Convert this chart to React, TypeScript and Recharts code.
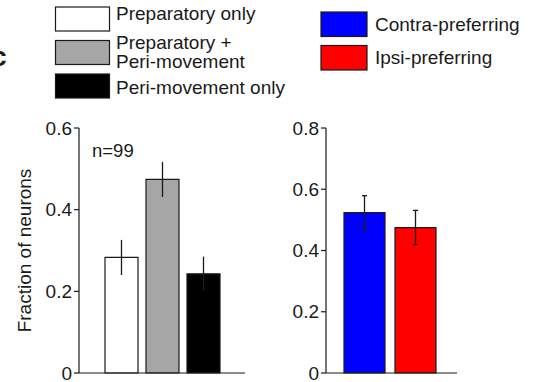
import React from 'react';
import { BarChart, Bar, XAxis, YAxis, ErrorBar, Cell } from 'recharts';

// panel c, left: response type of neurons
const typeLabels = ['Preparatory only', 'Preparatory + Peri-movement', 'Peri-movement only'];
const typeFractions = [0.283, 0.474, 0.243];
const typeErrors = [0.043, 0.043, 0.042];
const typeColors = ['#ffffff', '#a6a6a6', '#000000'];
const typeTicks = [0, 0.2, 0.4, 0.6];

// panel c, right: side preference
const prefLabels = ['Contra-preferring', 'Ipsi-preferring'];
const prefFractions = [0.524, 0.475];
const prefErrors = [0.055, 0.056];
const prefColors = ['#0000ff', '#ff0000'];
const prefTicks = [0, 0.2, 0.4, 0.6, 0.8];

const nLabel = 'n=99';

const FONT = '"Liberation Sans", Arial, sans-serif';
const INK = '#1a1a1a';

const typeData = typeLabels.map((name, i) => ({ name, value: typeFractions[i], err: typeErrors[i] }));
const prefData = prefLabels.map((name, i) => ({ name, value: prefFractions[i], err: prefErrors[i] }));

const tickStyle = { fill: INK, fontSize: 19, fontFamily: FONT };

// legend row layout (swatch top, text baselines)
const leftRows = [
  { top: 7, lines: ['Preparatory only'], base: 20 },
  { top: 40.5, lines: ['Preparatory +', 'Peri-movement'], base: 48.8 },
  { top: 74, lines: ['Peri-movement only'], base: 94 },
];

function Legend() {
  return (
    <svg width={536} height={110} style={{ position: 'absolute', left: 0, top: 0 }}>
      <text x={-9} y={66} fontSize={28} fontWeight="bold" fontFamily={FONT} fill={INK}>c</text>

      {/* left legend */}
      {typeLabels.map((label, i) => {
        const row = leftRows[i];
        return (
          <g key={label}>
            <rect x={55.5} y={row.top} width={54} height={24} fill={typeColors[i]} stroke={INK} strokeWidth={1.2} />
            <text x={116} y={row.base} fontSize={19} fontFamily={FONT} fill={INK}>
              {row.lines.map((ln, j) => (
                <tspan key={ln} x={116} dy={j === 0 ? 0 : 18.7}>{ln}</tspan>
              ))}
            </text>
          </g>
        );
      })}

      {/* right legend */}
      {prefLabels.map((label, i) => {
        const y = 12 + i * 33.5;
        return (
          <g key={label}>
            <rect x={321} y={y} width={46} height={24.5} fill={prefColors[i]} stroke={INK} strokeWidth={1.2} />
            <text x={375} y={y + 18.7} fontSize={19} fontFamily={FONT} fill={INK}>{label}</text>
          </g>
        );
      })}
    </svg>
  );
}

export default function App() {
  return (
    <div style={{ position: 'absolute', left: 0, top: 0, width: 536, height: 382, background: '#fff', overflow: 'hidden' }}>
      <Legend />

      <div style={{ position: 'absolute', left: 0, top: 0 }}>
        <BarChart width={260} height={382} data={typeData} margin={{ top: 128, right: 15, bottom: 8, left: 0 }}>
          <XAxis
            dataKey="name"
            tick={false}
            tickLine={false}
            height={1}
            padding={{ left: 22, right: 21 }}
            axisLine={{ stroke: INK, strokeWidth: 1.2 }}
          />
          <YAxis
            width={79}
            domain={[0, 0.6]}
            ticks={typeTicks}
            interval={0}
            tickSize={5}
            tick={tickStyle}
            axisLine={{ stroke: INK, strokeWidth: 1.2 }}
            tickLine={{ stroke: INK, strokeWidth: 1.2 }}
            label={{
              value: 'Fraction of neurons',
              angle: -90,
              position: 'insideLeft',
              offset: 24,
              style: { textAnchor: 'middle', fontSize: 19, fontFamily: FONT, fill: INK },
            }}
          />
          <Bar dataKey="value" barSize={33} stroke={INK} strokeWidth={1.2} isAnimationActive={false}>
            {typeData.map((d, i) => (
              <Cell key={d.name} fill={typeColors[i]} />
            ))}
            <ErrorBar dataKey="err" width={0} stroke={INK} strokeWidth={1.3} />
          </Bar>
        </BarChart>
        <div style={{ position: 'absolute', left: 92, top: 141, fontSize: 18.5, fontFamily: FONT, color: INK, lineHeight: '20px' }}>
          {nLabel}
        </div>
      </div>

      <div style={{ position: 'absolute', left: 260, top: 0 }}>
        <BarChart width={276} height={382} data={prefData} margin={{ top: 128, right: 79, bottom: 8, left: 0 }}>
          <XAxis
            dataKey="name"
            tick={false}
            tickLine={false}
            height={1}
            padding={{ left: 13, right: 16 }}
            axisLine={{ stroke: INK, strokeWidth: 1.2 }}
          />
          <YAxis
            width={66}
            domain={[0, 0.8]}
            ticks={prefTicks}
            interval={0}
            tickSize={5}
            tick={tickStyle}
            axisLine={{ stroke: INK, strokeWidth: 1.2 }}
            tickLine={{ stroke: INK, strokeWidth: 1.2 }}
          />
          <Bar dataKey="value" barSize={41} stroke={INK} strokeWidth={1.2} isAnimationActive={false}>
            {prefData.map((d, i) => (
              <Cell key={d.name} fill={prefColors[i]} />
            ))}
            <ErrorBar dataKey="err" width={2.5} stroke={INK} strokeWidth={1.3} />
          </Bar>
        </BarChart>
      </div>
    </div>
  );
}
